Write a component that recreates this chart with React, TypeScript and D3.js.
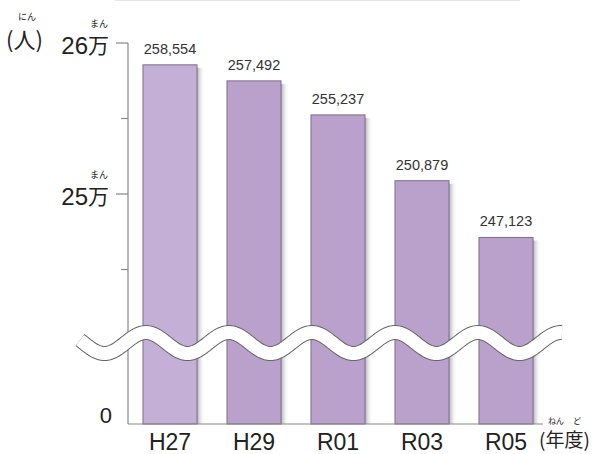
import React from "react";
import * as d3 from "d3";

const categories = ["H27", "H29", "R01", "R03", "R05"];
const values = [258554, 257492, 255237, 250879, 247123];
const valueLabels = ["258,554", "257,492", "255,237", "250,879", "247,123"];
const majorTicks = [250000, 260000];
const majorTickLabels = ["25", "26"];
const minorTicks = [245000, 255000];

const W = 599;
const H = 454;
const AXIS_X = 128;
const BASE_Y = 424;
const JP = "'Noto Sans CJK JP', 'Noto Sans', sans-serif";
const LAT = "'Liberation Sans', Arial, sans-serif";

export default function App() {
  const x = d3
    .scaleBand<string>()
    .domain(categories)
    .range([128, 548])
    .paddingInner(0.357)
    .paddingOuter(0.1785);
  const y = d3.scaleLinear().domain([240000, 260000]).range([345, 43]);

  // decorative wave (axis break)
  const waveX = d3.range(80, 562.5, 1);
  const wave = d3
    .line<number>()
    .x((d) => d)
    .y((d) => 343 - 10.5 * Math.cos((2 * Math.PI * (d - 146)) / 83))(waveX) as string;

  const bw = x.bandwidth();

  return (
    <svg width={W} height={H} style={{ position: "absolute", left: 0, top: 0, background: "#fff" }}>
      <defs>
        <linearGradient id="shadow" x1="0" x2="1" y1="0" y2="0">
          <stop offset="0%" stopColor="#9ea3a8" stopOpacity={0.85} />
          <stop offset="100%" stopColor="#ffffff" stopOpacity={0} />
        </linearGradient>
      </defs>
      <line x1={115} x2={520} y1={0.5} y2={0.5} stroke="#e6e6e6" />

      {/* bars */}
      {categories.map((c, i) => {
        const bx = x(c)!;
        const top = y(values[i]);
        return (
          <g key={c}>
            <rect x={bx + bw} y={top + 3} width={8} height={BASE_Y - top - 3} fill="url(#shadow)" />
            <rect
              x={bx}
              y={top}
              width={bw}
              height={BASE_Y - top}
              fill={i === 0 ? "#c4b0d7" : "#b9a1cb"}
              stroke="#7c6e86"
              strokeWidth={1}
            />
            <text
              x={bx + bw / 2}
              y={top - 11}
              textAnchor="middle"
              fontFamily={LAT}
              fontSize={14.5}
              fill="#333"
            >
              {valueLabels[i]}
            </text>
            <text
              x={bx + bw / 2}
              y={450}
              textAnchor="middle"
              fontFamily={LAT}
              fontSize={23}
              fill="#222"
            >
              {c}
            </text>
          </g>
        );
      })}

      {/* axes */}
      <line x1={AXIS_X} x2={AXIS_X} y1={y(260000)} y2={BASE_Y} stroke="#888" strokeWidth={1.2} />
      <line x1={AXIS_X} x2={543} y1={BASE_Y} y2={BASE_Y} stroke="#888" strokeWidth={1.2} />
      {majorTicks.map((t, i) => (
        <g key={t}>
          <line x1={116} x2={AXIS_X} y1={y(t)} y2={y(t)} stroke="#888" strokeWidth={1.2} />
          <text x={88} y={y(t) + 11} textAnchor="end" fontFamily={LAT} fontSize={24} fill="#222">
            {majorTickLabels[i]}
          </text>
          <text x={88} y={y(t) + 10} fontFamily={JP} fontSize={21} fill="#222">
            万
          </text>
          <text x={99} y={y(t) - 16} textAnchor="middle" fontFamily={JP} fontSize={9} fill="#222">
            まん
          </text>
        </g>
      ))}
      {minorTicks.map((t) => (
        <line key={t} x1={121} x2={AXIS_X} y1={y(t)} y2={y(t)} stroke="#888" strokeWidth={1.2} />
      ))}
      <text x={112} y={423} textAnchor="end" fontFamily={LAT} fontSize={22} fill="#222">
        0
      </text>

      {/* axis break wave */}
      <path d={wave} fill="none" stroke="#666" strokeWidth={15} />
      <path d={wave} fill="none" stroke="#fff" strokeWidth={13} />

      {/* unit labels */}
      <text x={6} y={48} fontFamily={JP} fontSize={22} fill="#222">
        (人)
      </text>
      <text x={27} y={20} textAnchor="middle" fontFamily={JP} fontSize={9} fill="#222">
        にん
      </text>
      <text x={539} y={447} fontFamily={JP} fontSize={19} fill="#222">
        (年度)
      </text>
      <text x={556} y={424} textAnchor="middle" fontFamily={JP} fontSize={8} fill="#222">
        ねん
      </text>
      <text x={577} y={424} textAnchor="middle" fontFamily={JP} fontSize={8} fill="#222">
        ど
      </text>
    </svg>
  );
}
